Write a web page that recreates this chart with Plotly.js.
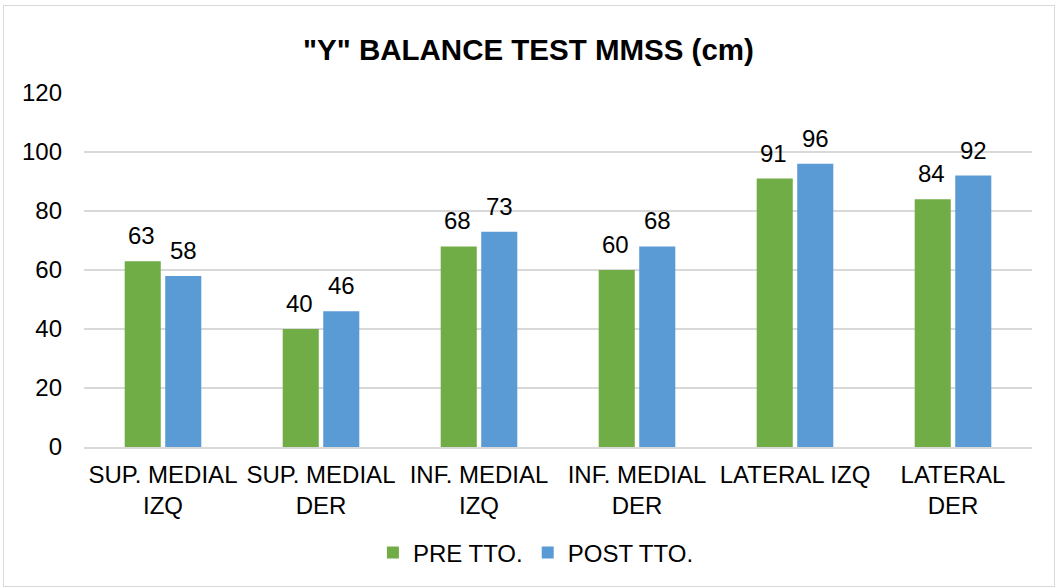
<!DOCTYPE html>
<html>
<head>
<meta charset="utf-8">
<script src="https://cdn.plot.ly/plotly-3.0.1.min.js"></script>
<style>
html,body{margin:0;padding:0;background:#fff;}
#chart{width:1057px;height:588px;position:relative;}
#frame{position:absolute;left:3px;top:5px;width:1052px;height:582px;border:1px solid #d9d9d9;box-sizing:border-box;pointer-events:none;}
</style>
</head>
<body>
<div id="chart"></div>
<div id="frame"></div>
<script>
const categories = ["SUP. MEDIAL<br>IZQ", "SUP. MEDIAL<br>DER", "INF. MEDIAL<br>IZQ", "INF. MEDIAL<br>DER", "LATERAL IZQ", "LATERAL<br>DER"];
const preValues = [63, 40, 68, 60, 91, 84];
const postValues = [58, 46, 73, 68, 96, 92];
const seriesNames = ["PRE TTO.", "POST TTO."];
const yTicks = [0, 20, 40, 60, 80, 100, 120];

const font = "Liberation Sans, Arial, sans-serif";
const traces = [
  {type: "bar", name: seriesNames[0], x: categories, y: preValues, marker: {color: "#70AD47"}},
  {type: "bar", name: seriesNames[1], x: categories, y: postValues, marker: {color: "#5B9BD5"}}
];
const annotations = [];
[[preValues, -21.5], [postValues, 20.5]].forEach(([vals, dx]) => {
  vals.forEach((v, i) => annotations.push({
    x: categories[i], y: v, xref: "x", yref: "y", text: String(v), showarrow: false,
    xanchor: "center", yanchor: "bottom", xshift: dx, yshift: 10,
    font: {size: 24, family: font, color: "#000"}
  }));
});
const layout = {
  width: 1057, height: 588,
  margin: {l: 84, r: 25, t: 93, b: 141},
  paper_bgcolor: "#fff", plot_bgcolor: "#fff",
  font: {family: font, size: 24, color: "#000"},
  title: {text: "<b>\"Y\" BALANCE TEST MMSS (cm)</b>", font: {size: 29.5, family: font, color: "#000"}, x: 0.5, xanchor: "center", y: 0.915, yanchor: "middle"},
  barmode: "group", bargap: 0.487, bargroupgap: 0.11,
  xaxis: {tickfont: {size: 24, family: font}, showline: true, linecolor: "#d9d9d9", linewidth: 2, ticks: "", showgrid: false, automargin: false, ticklabelstandoff: 5},
  yaxis: {range: [0, 120], tickvals: yTicks, tickfont: {size: 24, family: font}, gridcolor: "#d9d9d9", gridwidth: 2, zeroline: false, ticks: "", ticklabelstandoff: 21, showline: false, automargin: false},
  annotations: annotations,
  showlegend: true,
  legend: {orientation: "h", xref: "container", yref: "container", x: 0.507, xanchor: "center", y: 0.0595, yanchor: "middle", font: {size: 24, family: font}, itemwidth: 30, traceorder: "normal"}
};
Plotly.newPlot("chart", traces, layout, {displayModeBar: false, staticPlot: true});
</script>
</body>
</html>
